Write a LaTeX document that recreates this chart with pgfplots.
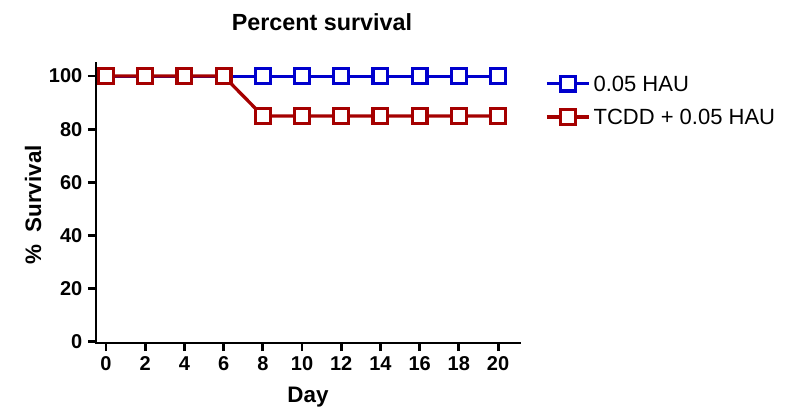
\documentclass[border=0pt]{standalone}
\usepackage{pgfplots}
\pgfplotsset{compat=1.18}
\usepackage{fontspec}
\setmainfont{Liberation Sans}
\definecolor{cblue}{RGB}{0,0,205}
\definecolor{cred}{RGB}{165,0,0}
\newcommand{\U}{0.75pt}
\begin{document}
\begin{tikzpicture}[x=0.75pt,y=0.75pt]
\useasboundingbox (0,0) rectangle (796,411);
\begin{axis}[
  at={(96*\U,68*\U)}, anchor=south west,
  scale only axis, width=424*\U, height=280*\U,
  xmin=-0.51, xmax=21.12, ymin=-0.4, ymax=104.9,
  axis x line*=bottom, axis y line*=left,
  axis line style={-, line width=2.9*\U, line cap=rect},
  xtick={0,2,...,20}, ytick={0,20,...,100},
  tick align=outside, major tick length=8*\U,
  every tick/.style={black, line width=2.9*\U},
  tick label style={font=\fontsize{15}{16}\selectfont\bfseries},
  /pgf/number format/assume math mode=true,
  xticklabel style={yshift=-1*\U},
  yticklabel style={xshift=-1*\U},
  clip=false,
  legend style={at={(1.059,0.955)}, anchor=north west, draw=none, fill=none,
    inner sep=0pt, font=\fontsize{16.5}{18}\selectfont,
    row sep=18*\U, column sep=0pt,
    nodes={inner sep=0pt, text depth=0pt},
    /tikz/every odd column/.style={column sep=3*\U}},
  legend cell align=left,
  legend image code/.code={
    \draw[mark repeat=2,mark phase=2] plot coordinates {(0,0) (21*\U,0) (42*\U,0)};
  },
]
\addplot[cblue, line width=3*\U, mark=square*, mark size=7.4*\U,
  mark options={fill=white, line width=3.2*\U, solid}]
  coordinates {(0,100) (2,100) (4,100) (6,100) (8,100) (10,100) (12,100) (14,100) (16,100) (18,100) (20,100)};
\addlegendentry{0.05 HAU}
\addplot[cred, line width=3.3*\U, mark=square*, mark size=7.4*\U,
  mark options={fill=white, line width=3.2*\U, solid}]
  coordinates {(0,100) (2,100) (4,100) (6,100) (8,85) (10,85) (12,85) (14,85) (16,85) (18,85) (20,85)};
\addlegendentry{TCDD + 0.05 HAU}
\end{axis}
\node[font=\fontsize{17.5}{19}\selectfont\bfseries] at (322,389) {Percent survival};
\node[font=\fontsize{16.8}{18}\selectfont\bfseries, rotate=90] at (33,206) {\%\ \ Survival};
\node[font=\fontsize{16.8}{18}\selectfont\bfseries] at (308,14) {Day};
\end{tikzpicture}
\end{document}
